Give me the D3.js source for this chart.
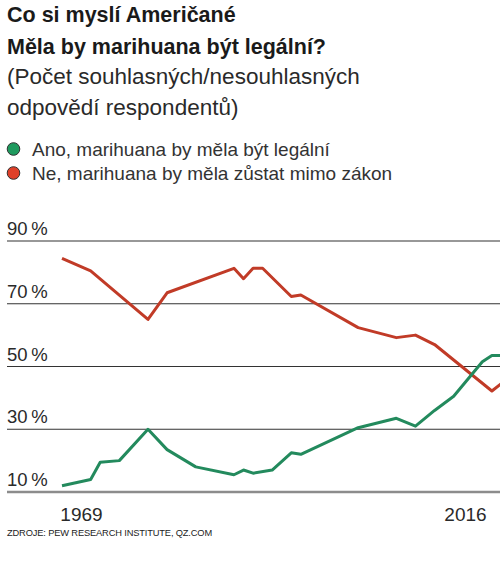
<!DOCTYPE html>
<html>
<head>
<meta charset="utf-8">
<script src="https://cdn.jsdelivr.net/npm/d3@7"></script>
<style>
  html, body { margin: 0; padding: 0; background: #fff; }
  svg { display: block; font-family: "Liberation Sans", Arial, Helvetica, sans-serif; }
</style>
</head>
<body>
<svg id="chart" width="500" height="562"></svg>
<script>
// ---- data ----
const titleLines = ["Co si myslí Američané", "Měla by marihuana být legální?"];
const subtitleLines = ["(Počet souhlasných/nesouhlasných", "odpovědí respondentů)"];
const seriesNames = ["Ano, marihuana by měla být legální", "Ne, marihuana by měla zůstat mimo zákon"];

const greenYears = [1969, 1972, 1973, 1975, 1978, 1980, 1983, 1987, 1988, 1989, 1991, 1993, 1994, 2000, 2004, 2006, 2008, 2010, 2013, 2014, 2015];
const greenValues = [12, 14, 19.5, 20, 30, 23.5, 18, 15.5, 17, 16, 17, 22.5, 22, 30.5, 33.5, 31, 36, 40.5, 51.5, 53.5, 53.5];

const redYears = [1969, 1972, 1978, 1980, 1987, 1988, 1989, 1990, 1993, 1994, 2000, 2004, 2006, 2008, 2014, 2015];
const redValues = [84.5, 80.5, 65, 73.5, 81.3, 78, 81.3, 81.3, 72.3, 72.8, 62.4, 59.2, 60, 57, 42.2, 44.6];

const yTicks = [10, 30, 50, 70, 90];
const xTickLabels = ["1969", "2016"];
const sourceText = "ZDROJE: PEW RESEARCH INSTITUTE, QZ.COM";

// ---- setup ----
const svg = d3.select("#chart");
const W = 500;
svg.append("rect").attr("width", 500).attr("height", 562).attr("fill", "#fff");

const x = d3.scaleLinear().domain([1969, 2016]).range([62, 511]);
const y = d3.scaleLinear().domain([10, 90]).range([492, 241]);
const xLabel = d3.scalePoint().domain(xTickLabels).range([81, 465]);

const colors = { green: "#238a5d", red: "#c13b27" };
const legendColors = ["#1f9a5e", "#df4029"];

// ---- titles ----
const tg = svg.append("g");
tg.selectAll("text.title").data(titleLines).join("text")
  .attr("class", "title")
  .attr("x", 7).attr("y", (d, i) => 22 + i * 32)
  .attr("font-size", 21.5).attr("font-weight", "bold").attr("fill", "#1a1a1a")
  .text(d => d);
tg.selectAll("text.sub").data(subtitleLines).join("text")
  .attr("class", "sub")
  .attr("x", 7).attr("y", (d, i) => 84 + i * 31)
  .attr("font-size", 22.5).attr("fill", "#2a2a2a")
  .text(d => d);

// ---- legend ----
const lg = svg.append("g");
const leg = lg.selectAll("g").data(seriesNames).join("g")
  .attr("transform", (d, i) => `translate(0, ${149 + i * 24})`);
leg.append("circle").attr("cx", 13.5).attr("cy", 0).attr("r", 6.3)
  .attr("fill", (d, i) => legendColors[i]).attr("stroke", "#333").attr("stroke-width", 1);
leg.append("text").attr("x", 32).attr("y", 7)
  .attr("font-size", 19).attr("fill", "#333").text(d => d);

// ---- grid ----
const gg = svg.append("g");
gg.selectAll("line").data(yTicks).join("line")
  .attr("x1", 7).attr("x2", W)
  .attr("y1", d => y(d)).attr("y2", d => y(d))
  .attr("stroke", d => d === 10 ? "#8c8c8c" : "#333")
  .attr("stroke-width", d => d === 10 ? 2.5 : 1.1);
gg.selectAll("text").data(yTicks).join("text")
  .attr("x", 7).attr("y", d => y(d) - 6)
  .attr("font-size", 18.5).attr("fill", "#2a2a2a")
  .text(d => d + "\u2009%");

// ---- lines ----
const line = d3.line().x(d => x(d[0])).y(d => y(d[1]));
const greenData = greenYears.map((yr, i) => [yr, greenValues[i]]);
const redData = redYears.map((yr, i) => [yr, redValues[i]]);

svg.append("path").datum(redData).attr("d", line)
  .attr("fill", "none").attr("stroke", colors.red).attr("stroke-width", 3)
  .attr("stroke-linejoin", "round");
svg.append("path").datum(greenData).attr("d", line)
  .attr("fill", "none").attr("stroke", colors.green).attr("stroke-width", 3)
  .attr("stroke-linejoin", "round");

// ---- x axis labels ----
const xAxis = d3.axisBottom(xLabel).tickSize(0).tickPadding(0);
const xg = svg.append("g").attr("transform", "translate(0, 506)").call(xAxis);
xg.select(".domain").remove();
xg.selectAll("text").attr("font-size", 19).attr("fill", "#2a2a2a")
  .attr("font-family", "'Liberation Sans', Arial, sans-serif").attr("dy", "0.78em");

// ---- source ----
svg.append("text").attr("x", 7).attr("y", 536)
  .attr("font-size", 9.3).attr("fill", "#222").attr("letter-spacing", -0.15)
  .text(sourceText);
</script>
</body>
</html>
